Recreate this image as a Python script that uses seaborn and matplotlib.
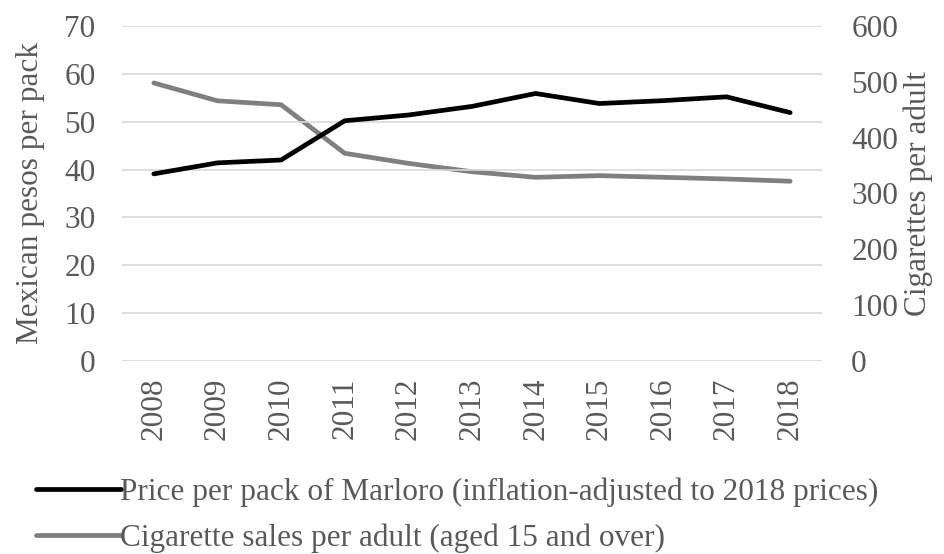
import pandas as pd
import matplotlib.pyplot as plt
import seaborn as sns
from matplotlib.lines import Line2D

years = [2008, 2009, 2010, 2011, 2012, 2013, 2014, 2015, 2016, 2017, 2018]
price = [39.1, 41.4, 42.0, 50.2, 51.4, 53.2, 55.9, 53.8, 54.4, 55.2, 51.9]
sales = [498, 466, 459, 372, 354, 339, 329, 332, 329, 326, 322]

price_label = 'Price per pack of Marloro (inflation-adjusted to 2018 prices)'
sales_label = 'Cigarette sales per adult (aged 15 and over)'

df = pd.DataFrame({'year': years, 'price': price, 'sales': sales})

sns.set_style('white')
plt.rcParams['font.family'] = ['Liberation Serif', 'DejaVu Serif']
text_col = '#595959'
fs = 22.5

fig = plt.figure(figsize=(9.44, 5.54), dpi=100)
ax = fig.add_axes([122 / 944, 1 - 361 / 554, 700 / 944, 335 / 554])
ax2 = ax.twinx()

sns.lineplot(data=df, x='year', y='price', ax=ax, color='black', linewidth=3.4, zorder=3)
sns.lineplot(data=df, x='year', y='sales', ax=ax2, color='#7f7f7f', linewidth=3.4, zorder=3)

ax.set_xlim(2007.5, 2018.5)
ax.set_ylim(0, 70)
ax2.set_ylim(0, 600)
ax.set_yticks(range(0, 71, 10))
ax2.set_yticks(range(0, 601, 100))
ax.set_xticks(years)
ax.set_xticklabels([str(y) for y in years], rotation=90)

ax.grid(axis='y', color='#d9d9d9', linewidth=1.2, zorder=0)
ax.set_axisbelow(True)
for a in (ax, ax2):
    for s in a.spines.values():
        s.set_visible(False)
    a.tick_params(length=0, labelsize=fs, colors=text_col)
ax.tick_params(axis='y', pad=19)
ax2.tick_params(axis='y', pad=21)
ax.tick_params(axis='x', pad=12)

ax.set_xlabel('')
ax.set_ylabel('Mexican pesos per pack', fontsize=fs, color=text_col, labelpad=14)
ax2.set_ylabel('Cigarettes per adult', fontsize=fs, color=text_col, labelpad=4)

# keep the black line above the gray one
ax.set_zorder(ax2.get_zorder() + 1)
ax.patch.set_visible(False)

handles = [Line2D([], [], color='black', linewidth=3.4),
           Line2D([], [], color='#7f7f7f', linewidth=3.4)]
fig.legend(handles, [price_label, sales_label], loc='upper left',
           bbox_to_anchor=(8 / 944, 1 - 449 / 554), frameon=False,
           fontsize=fs, handlelength=2.7, handletextpad=0.0,
           labelspacing=0.55, labelcolor=text_col)

fig.savefig('out.png', dpi=100)
